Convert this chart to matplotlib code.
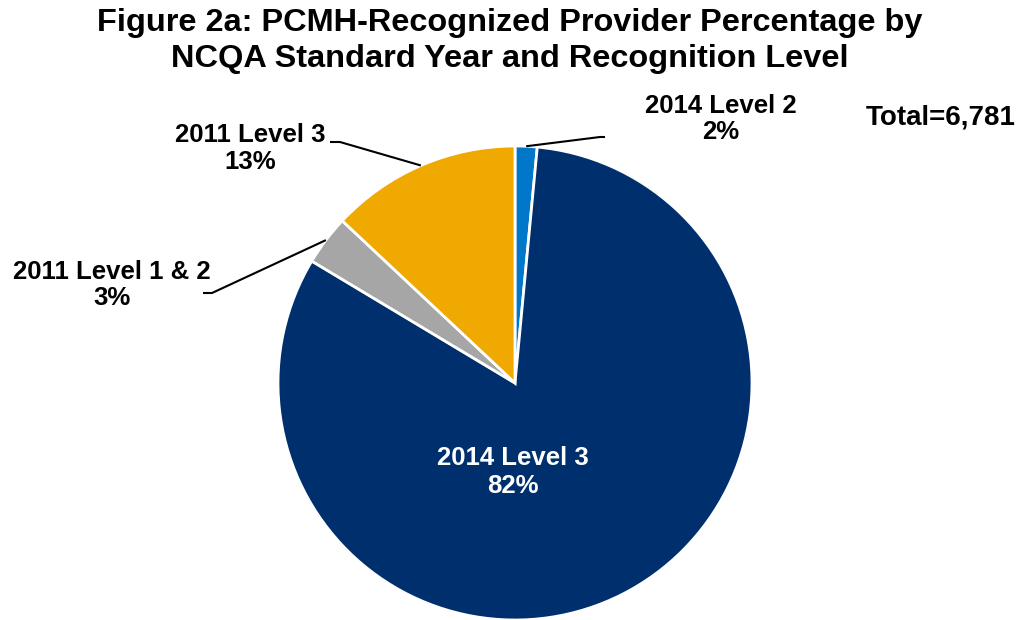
import numpy as np
import matplotlib.pyplot as plt

plt.rcParams['font.family'] = ['Liberation Sans', 'DejaVu Sans']

labels = ['2014 Level 2', '2014 Level 3', '2011 Level 1 & 2', '2011 Level 3']
values = [1.5, 82.1, 3.4, 13.0]
pct_text = ['2%', '82%', '3%', '13%']
colors = ['#0077C8', '#002F6E', '#A6A6A6', '#F0A900']
total = 6781

fig = plt.figure(figsize=(10.2, 6.2), dpi=100)
ax = fig.add_axes([0, 0, 1, 1])

cx, cy, r = 515, 237, 237
wedges, _ = ax.pie(values, colors=colors, startangle=90, counterclock=False,
                   center=(cx, cy), radius=r, frame=True,
                   wedgeprops=dict(edgecolor='white', linewidth=2))
ax.set_xlim(0, 1020)
ax.set_ylim(0, 620)
ax.axis('off')

# label positions (text centre) and leader elbow points
text_pos = {0: (721, 620 - 119), 2: (112, 620 - 285), 3: (250, 620 - 148.5)}
elbow = {0: [(605, 483), (600, 483)],
         2: [(203, 327), (212, 327)],
         3: [(330, 478), (340, 478)]}

for i, w in enumerate(wedges):
    mid = np.deg2rad((w.theta1 + w.theta2) / 2)
    txt = labels[i] + '\n' + pct_text[i]
    if i == 1:
        ax.text(513, 620 - 472, txt, ha='center', va='center', color='white',
                fontsize=18.5, fontweight='bold', linespacing=1.25)
        continue
    ex, ey = cx + r * np.cos(mid), cy + r * np.sin(mid)
    tx, ty = text_pos[i]
    ax.text(tx, ty, txt, ha='center', va='center', color='black',
            fontsize=18.5, fontweight='bold', linespacing=1.15)
    pts = elbow[i] + [(ex, ey)]
    xs, ys = zip(*pts)
    ax.plot(xs, ys, color='black', lw=1.5, solid_capstyle='butt')

ax.text(941, 620 - 117, 'Total=%s' % format(total, ','), ha='center', va='center',
        fontsize=20, fontweight='bold')

ax.text(510, 620 - 41, 'Figure 2a: PCMH-Recognized Provider Percentage by\n'
        'NCQA Standard Year and Recognition Level', ha='center', va='center',
        fontsize=23.4, fontweight='bold', linespacing=1.3)

fig.savefig('out.png', dpi=100)
